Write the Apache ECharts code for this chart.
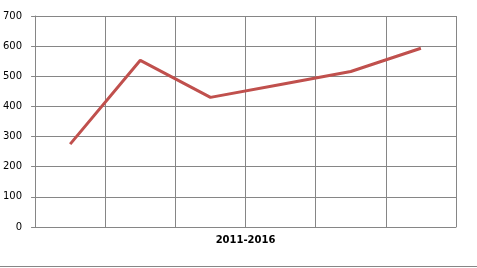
<!DOCTYPE html>
<html><head><meta charset="utf-8">
<script src="https://cdn.jsdelivr.net/npm/echarts@6/dist/echarts.min.js"></script>
<style>html,body{margin:0;padding:0;background:#fff}#c{width:477px;height:268px}</style>
</head><body><div id="c"></div>
<script>
const categories = ['2011','2012','2013','2014','2015','2016'];
const values = [275, 553, 430, 473, 516, 593];
const axisTitle = '2011-2016';
const yTicks = [0, 700, 100];

const gray = '#868686';
const chart = echarts.init(document.getElementById('c'), null, {renderer: 'canvas'});
chart.setOption({
  animation: false,
  backgroundColor: '#fff',
  grid: {left: 32, right: 21, top: 16, bottom: 41, containLabel: false},
  xAxis: {
    type: 'category', data: categories, boundaryGap: true,
    axisLine: {show: true, lineStyle: {color: gray, width: 1}},
    axisTick: {show: false},
    axisLabel: {show: false},
    splitLine: {show: true, lineStyle: {color: gray, width: 1}},
    name: axisTitle, nameLocation: 'middle', nameGap: 8,
    nameTextStyle: {fontFamily: 'DejaVu Sans', fontSize: 10, fontWeight: 'bold', color: '#000'}
  },
  yAxis: {
    type: 'value', min: yTicks[0], max: yTicks[1], interval: yTicks[2],
    axisLine: {show: true, lineStyle: {color: gray, width: 1}},
    axisTick: {show: true, length: 4, inside: false, lineStyle: {color: gray}},
    axisLabel: {margin: 13, fontFamily: 'DejaVu Sans', fontSize: 10, color: '#000'},
    splitLine: {show: true, lineStyle: {color: gray, width: 1}}
  },
  series: [{
    type: 'line', data: values, symbol: 'none',
    lineStyle: {color: '#C0504D', width: 3}
  }],
  graphic: [{
    type: 'line', shape: {x1: 0, y1: 266.5, x2: 477, y2: 266.5},
    style: {stroke: gray, lineWidth: 1}
  }]
});
</script></body></html>
